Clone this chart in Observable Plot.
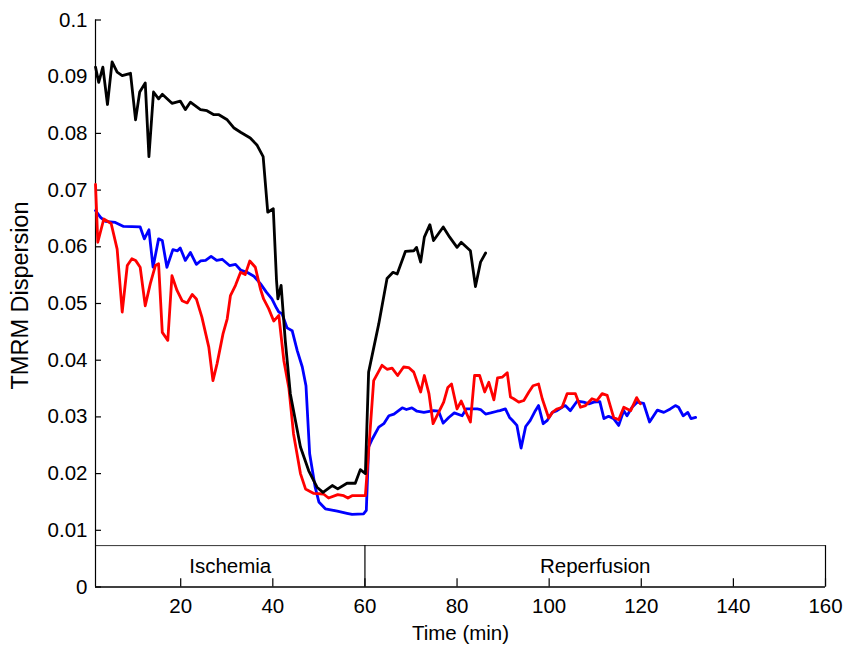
<!DOCTYPE html>
<html>
<head>
<meta charset="utf-8">
<script src="https://cdn.jsdelivr.net/npm/d3@7"></script>
<script src="https://cdn.jsdelivr.net/npm/@observablehq/plot@0.6"></script>
<style>
  html, body { margin: 0; padding: 0; background: #fff; }
  #chart svg { display: block; }
</style>
</head>
<body>
<div id="chart"></div>
<script>
// ---- data ----
const blackT = [1.5,2.2,3.1,4.1,5.1,6.2,7.3,9.1,10.2,11.1,12.3,13.1,14.1,15.2,16.0,18.1,19.9,21.0,22.1,24.3,25.7,27.2,28.3,30.1,31.5,33.0,35.1,36.6,37.9,38.9,40.1,40.8,41.1,41.8,42.7,43.8,46.0,47.8,49.6,50.9,52.9,54.1,56.1,57.9,59.0,60.1,60.8,63.0,64.8,66.1,67.0,68.8,70.6,71.2,72.1,72.9,74.1,74.9,77.0,78.4,80.0,80.9,82.9,84.0,85.1,86.2];
const blackV = [0.0917,0.0890,0.0917,0.0851,0.0926,0.0908,0.0902,0.0906,0.0824,0.0873,0.0889,0.0759,0.0873,0.0861,0.0869,0.0853,0.0857,0.0842,0.0855,0.0842,0.0840,0.0833,0.0833,0.0824,0.0810,0.0802,0.0792,0.0779,0.0759,0.0661,0.0667,0.0541,0.0508,0.0532,0.0435,0.0341,0.0247,0.0205,0.0176,0.0167,0.0179,0.0173,0.0183,0.0183,0.0207,0.0200,0.0379,0.0464,0.0544,0.0555,0.0552,0.0592,0.0593,0.0599,0.0573,0.0617,0.0639,0.0611,0.0635,0.0617,0.0599,0.0608,0.0593,0.0530,0.0573,0.0589];

const blueT = [1.5,2.6,3.6,5.8,7.6,11.2,12.1,13.1,14.0,15.2,16.0,17.0,18.3,19.3,19.9,21.0,22.1,23.4,24.3,25.4,26.6,27.8,29.0,30.6,31.9,33.0,34.4,35.9,37.3,38.6,39.8,40.8,41.3,42.0,43.1,44.2,45.3,46.4,47.2,48.0,49.2,50.0,51.4,54.0,56.1,57.2,59.7,60.3,60.8,61.6,63.0,64.1,65.2,66.3,68.1,69.0,70.2,71.3,72.8,74.9,76.0,77.0,78.2,79.4,81.1,82.0,84.4,85.1,86.2,87.3,88.7,89.3,90.5,91.4,92.0,93.0,93.9,94.9,95.9,97.0,97.7,98.7,99.6,100.7,101.7,102.8,103.5,104.6,106.1,107.5,108.6,109.7,111.0,111.9,112.9,114.0,115.1,116.2,116.9,118.0,119.1,120.5,121.8,123.5,124.9,126.3,127.4,128.1,129.1,130.1,130.8,131.8];
const blueV = [0.0664,0.0652,0.0645,0.0643,0.0636,0.0635,0.0614,0.0630,0.0564,0.0614,0.0611,0.0564,0.0595,0.0593,0.0598,0.0576,0.0590,0.0569,0.0575,0.0576,0.0583,0.0576,0.0578,0.0567,0.0569,0.0559,0.0555,0.0548,0.0535,0.0520,0.0508,0.0492,0.0485,0.0482,0.0457,0.0452,0.0417,0.0388,0.0355,0.0235,0.0176,0.0150,0.0138,0.0134,0.0130,0.0128,0.0129,0.0135,0.0247,0.0261,0.0282,0.0288,0.0302,0.0305,0.0316,0.0313,0.0316,0.0310,0.0308,0.0311,0.0310,0.0289,0.0299,0.0307,0.0302,0.0314,0.0314,0.0313,0.0305,0.0307,0.0310,0.0311,0.0314,0.0299,0.0294,0.0285,0.0245,0.0283,0.0294,0.0311,0.0320,0.0288,0.0294,0.0308,0.0311,0.0317,0.0320,0.0311,0.0328,0.0326,0.0323,0.0326,0.0327,0.0297,0.0301,0.0297,0.0285,0.0311,0.0302,0.0317,0.0326,0.0324,0.0291,0.0312,0.0308,0.0314,0.0320,0.0317,0.0302,0.0308,0.0297,0.0299];

const redT = [1.5,2.0,3.3,4.9,6.2,7.3,8.4,9.4,10.2,11.2,12.3,13.4,14.5,15.2,16.0,17.2,18.1,19.2,20.3,21.4,22.5,23.4,24.6,26.1,27.0,27.9,29.2,30.1,30.8,31.9,33.0,34.0,35.0,36.2,37.3,38.0,39.1,40.2,41.3,42.4,43.5,44.5,46.0,47.1,48.9,51.0,52.1,54.1,55.4,56.3,57.2,60.1,61.9,63.7,64.8,65.9,67.1,68.4,69.5,70.6,72.1,72.9,73.9,74.8,76.0,77.1,78.0,78.8,80.0,80.9,81.8,82.9,83.8,84.9,86.0,86.9,88.0,88.8,89.8,90.9,91.6,92.3,93.4,94.5,95.6,96.5,97.7,98.5,99.9,100.7,101.7,102.8,103.9,105.7,106.8,107.9,109.3,110.4,111.5,112.6,114.0,115.1,116.2,117.7,119.0,119.8];
const redV = [0.0710,0.0608,0.0649,0.0641,0.0596,0.0485,0.0567,0.0579,0.0576,0.0564,0.0496,0.0535,0.0567,0.0570,0.0449,0.0435,0.0549,0.0523,0.0505,0.0501,0.0516,0.0508,0.0476,0.0423,0.0364,0.0394,0.0447,0.0473,0.0514,0.0532,0.0555,0.0551,0.0575,0.0564,0.0526,0.0508,0.0491,0.0469,0.0479,0.0399,0.0350,0.0270,0.0200,0.0173,0.0165,0.0164,0.0157,0.0163,0.0161,0.0157,0.0161,0.0161,0.0364,0.0391,0.0384,0.0386,0.0373,0.0388,0.0387,0.0379,0.0344,0.0373,0.0341,0.0288,0.0308,0.0326,0.0352,0.0358,0.0314,0.0328,0.0311,0.0291,0.0373,0.0373,0.0344,0.0361,0.0330,0.0369,0.0370,0.0378,0.0335,0.0332,0.0326,0.0329,0.0344,0.0355,0.0358,0.0332,0.0298,0.0308,0.0314,0.0317,0.0341,0.0341,0.0317,0.0320,0.0332,0.0329,0.0341,0.0338,0.0299,0.0295,0.0317,0.0311,0.0334,0.0323];

const xTicks = [20, 40, 60, 80, 100, 120, 140, 160];
const yTicks = [0, 0.01, 0.02, 0.03, 0.04, 0.05, 0.06, 0.07, 0.08, 0.09, 0.1];
const phaseNames = ["Ischemia", "Reperfusion"];
const phaseStart = [1.5, 60];
const phaseEnd = [60, 160];
const xDomain = [1.5, 160];
const yDomain = [0, 0.1];
const xLabel = "Time (min)";
const yLabel = "TMRM Dispersion";

// ---- build tables ----
const toRows = (T, V) => T.map((t, i) => ({t, v: V[i]}));
const black = toRows(blackT, blackV);
const blue = toRows(blueT, blueV);
const red = toRows(redT, redV);
const phases = phaseNames.map((name, i) => ({name, start: phaseStart[i], end: phaseEnd[i]}));
const bandTop = 0.0073;
// inward tick lengths expressed in data units (about 8 px and 6 px)
const xTickLen = 0.00145;
const yTickLen = 1.3;

const fmt = d3.format("~g");

const chart = Plot.plot({
  width: 844,
  height: 647,
  marginLeft: 95,
  marginRight: 19,
  marginTop: 19.5,
  marginBottom: 60.5,
  style: {fontFamily: "'Liberation Sans', Arial, Helvetica, sans-serif", fontSize: "20.5px", color: "#000", background: "#fff", overflow: "visible"},
  x: {domain: xDomain},
  y: {domain: yDomain},
  marks: [
    // phase band box
    Plot.ruleY([bandTop], {x1: xDomain[0], x2: xDomain[1], stroke: "#333", strokeWidth: 1}),
    Plot.ruleX(phases, {x: "end", y1: 0, y2: bandTop, stroke: "#000", strokeWidth: 1.2}),
    Plot.text(phases, {x: d => (d.start + d.end) / 2, y: bandTop / 2, text: "name", fill: "#000", fontSize: 20.5, lineAnchor: "middle"}),
    // axis lines
    Plot.ruleX([xDomain[0]], {y1: yDomain[0], y2: yDomain[1], stroke: "#000", strokeWidth: 1.2}),
    Plot.ruleY([0], {x1: xDomain[0], x2: xDomain[1], stroke: "#000", strokeWidth: 1.6}),
    // inward tick marks
    Plot.ruleX(xTicks, {x: d => d, y1: 0, y2: xTickLen, stroke: "#000", strokeWidth: 1.2}),
    Plot.ruleY(yTicks, {y: d => d, x1: xDomain[0], x2: xDomain[0] + yTickLen, stroke: "#000", strokeWidth: 1.2}),
    // tick labels
    Plot.axisX({ticks: xTicks, tickSize: 0, tickPadding: 11, tickFormat: fmt, label: null}),
    Plot.axisY({ticks: yTicks, tickSize: 0, tickPadding: 8, tickFormat: fmt, label: null}),
    // axis titles
    Plot.text([xLabel], {frameAnchor: "bottom", dy: 46, text: d => d, fill: "#000", fontSize: 20.5, lineAnchor: "middle"}),
    Plot.text([yLabel], {frameAnchor: "left", textAnchor: "middle", dx: -75, dy: -8, rotate: -90, text: d => d, fill: "#000", fontSize: 23.5, lineAnchor: "middle"}),
    // series
    Plot.line(blue, {x: "t", y: "v", stroke: "#0000ff", strokeWidth: 2.8}),
    Plot.line(red, {x: "t", y: "v", stroke: "#ff0000", strokeWidth: 2.8}),
    Plot.line(black, {x: "t", y: "v", stroke: "#000000", strokeWidth: 2.8})
  ]
});
document.getElementById("chart").appendChild(chart);
</script>
</body>
</html>
